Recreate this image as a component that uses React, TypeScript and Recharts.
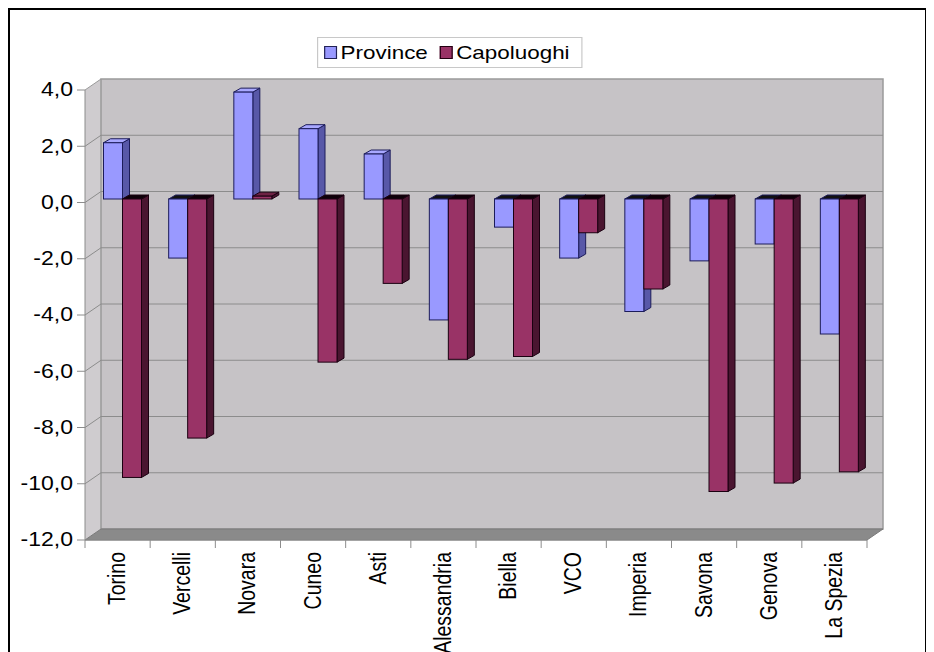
import React from 'react';
import { BarChart, Bar, XAxis, YAxis, ReferenceArea, Legend } from 'recharts';

const CATEGORIES = ['Torino', 'Vercelli', 'Novara', 'Cuneo', 'Asti', 'Alessandria', 'Biella', 'VCO', 'Imperia', 'Savona', 'Genova', 'La Spezia'];
const PROVINCE = [2.0, -2.1, 3.8, 2.5, 1.6, -4.3, -1.0, -2.1, -4.0, -2.2, -1.6, -4.8];
const CAPOLUOGHI = [-9.9, -8.5, 0.1, -5.8, -3.0, -5.7, -5.6, -1.2, -3.2, -10.4, -10.1, -9.7];
const Y_TICKS = [4, 2, 0, -2, -4, -6, -8, -10, -12];

const data = CATEGORIES.map((name, i) => ({ name, province: PROVINCE[i], capoluoghi: CAPOLUOGHI[i] }));

// fake 3d: wall depth, bar offset inside depth, bar depth
const WD = 16, WDY = -11;
const OX = 4.5, OY = -3.5, DX = 7, DY = -4;
const SX = 1.18; // the picture is a bit stretched sideways
const FONT = '"Liberation Sans", Arial, sans-serif';

const PROV = { front: '#9999ff', side: '#5858a8', top: '#a8a8ff', topNeg: '#111', stroke: '#1c1c5a' };
const CAP = { front: '#993366', side: '#4a1530', top: '#6e2244', topNeg: '#0d0008', stroke: '#1a0010' };

const fmt = (v: number) => v.toFixed(1).replace('.', ',');

const Bar3D = (props: any) => {
  const { x, y, width, height, payload, seriesKey, colors } = props;
  const v = payload[seriesKey];
  const top = Math.min(y, y + height) + OY;
  const bottom = Math.max(y, y + height) + OY;
  const left = x + OX;
  const right = left + width;
  const topFill = v >= 0 ? colors.top : colors.topNeg;
  return (
    <g>
      <polygon
        points={`${right},${top} ${right + DX},${top + DY} ${right + DX},${bottom + DY} ${right},${bottom}`}
        fill={colors.side}
        stroke={colors.stroke}
        strokeWidth={1}
      />
      <polygon
        points={`${left},${top} ${left + DX},${top + DY} ${right + DX},${top + DY} ${right},${top}`}
        fill={topFill}
        stroke={colors.stroke}
        strokeWidth={1}
      />
      <rect x={left} y={top} width={width} height={bottom - top} fill={colors.front} stroke={colors.stroke} strokeWidth={1} />
    </g>
  );
};

// back wall, side wall, floor and gridlines, drawn from the area that spans the whole y domain
const Walls = (props: any) => {
  const { x, y, width: w, height: h } = props;
  const yMax = Y_TICKS[0];
  const yMin = Y_TICKS[Y_TICKS.length - 1];
  const yOf = (t: number) => y + ((yMax - t) / (yMax - yMin)) * h;
  const n = CATEGORIES.length;
  return (
    <g>
      <polygon points={`${x},${y} ${x + WD},${y + WDY} ${x + WD},${y + h + WDY} ${x},${y + h}`} fill="#cfcccf" />
      <rect x={x + WD} y={y + WDY} width={w} height={h} fill="#c6c3c6" stroke="#9a9a9a" strokeWidth={1.5} />
      {Y_TICKS.slice(1, -1).map((t) => (
        <g key={t}>
          <line x1={x} y1={yOf(t)} x2={x + WD} y2={yOf(t) + WDY} stroke="#8c8c8c" />
          <line x1={x + WD} y1={yOf(t) + WDY} x2={x + WD + w} y2={yOf(t) + WDY} stroke="#8c8c8c" />
        </g>
      ))}
      <line x1={x} y1={y} x2={x + WD} y2={y + WDY} stroke="#9a9a9a" />
      <polygon points={`${x},${y + h} ${x + WD},${y + h + WDY} ${x + WD + w},${y + h + WDY} ${x + w},${y + h}`} fill="#8a8a8a" stroke="#7a7a7a" />
      {Array.from({ length: n + 1 }, (_, i) => (
        <line key={i} x1={x + (i * w) / n} y1={y + h} x2={x + (i * w) / n} y2={y + h + 8} stroke="#8c8c8c" />
      ))}
    </g>
  );
};

const YTick = ({ x, y, payload }: any) => (
  <text
    transform={`translate(${x},${y}) scale(${SX},1)`}
    textAnchor="end"
    dominantBaseline="central"
    fontFamily={FONT}
    fontSize={19.5}
    fill="#000"
  >
    {fmt(payload.value)}
  </text>
);

const XTick = ({ x, y, payload }: any) => (
  <text
    transform={`translate(${x},${y + 12}) scale(${SX},1) rotate(-90)`}
    textAnchor="end"
    dominantBaseline="central"
    fontFamily={FONT}
    fontSize={19.5}
    fill="#000"
  >
    {payload.value}
  </text>
);

const LegendBox = () => (
  <div
    style={{
      width: 225,
      height: 31,
      boxSizing: 'border-box',
      border: '1px solid #c8c8c8',
      background: '#fff',
      display: 'flex',
      alignItems: 'center',
      paddingLeft: 5,
      fontFamily: FONT,
      fontSize: 19,
      color: '#000',
      transform: `scaleX(${SX})`,
      transformOrigin: 'left top',
      whiteSpace: 'nowrap',
    }}
  >
    <span style={{ width: 11, height: 13, background: PROV.front, border: '1px solid #222255', marginRight: 3, boxSizing: 'border-box' }} />
    <span style={{ marginRight: 10 }}>Province</span>
    <span style={{ width: 11, height: 13, background: CAP.front, border: '1px solid #220011', marginRight: 3, boxSizing: 'border-box' }} />
    <span>Capoluoghi</span>
  </div>
);

export default function App() {
  return (
    <div style={{ position: 'relative', width: 919, height: 644 }}>
      <BarChart
        width={919}
        height={644}
        data={data}
        margin={{ top: 82, right: 60, bottom: 0, left: 7 }}
        barCategoryGap={14}
        barGap={0}
      >
        <ReferenceArea y1={-12} y2={4} ifOverflow="visible" shape={<Walls />} />
        <XAxis
          dataKey="name"
          interval={0}
          height={112}
          tickLine={false}
          tickSize={0}
          tickMargin={0}
          axisLine={{ stroke: '#8c8c8c' }}
          tick={<XTick />}
        />
        <YAxis
          width={70}
          domain={[-12, 4]}
          ticks={Y_TICKS}
          interval={0}
          tickSize={8}
          tickMargin={4}
          axisLine={{ stroke: '#8c8c8c' }}
          tickLine={{ stroke: '#8c8c8c' }}
          tick={<YTick />}
        />
        <Legend
          verticalAlign="middle"
          layout="horizontal"
          content={<LegendBox />}
          wrapperStyle={{ left: 309, top: 29, width: 266, height: 32 }}
        />
        <Bar
          dataKey="province"
          name="Province"
          isAnimationActive={false}
          shape={(p: any) => <Bar3D {...p} seriesKey="province" colors={PROV} />}
        />
        <Bar
          dataKey="capoluoghi"
          name="Capoluoghi"
          isAnimationActive={false}
          shape={(p: any) => <Bar3D {...p} seriesKey="capoluoghi" colors={CAP} />}
        />
      </BarChart>
      <div
        style={{
          position: 'absolute',
          inset: 0,
          borderTop: '2px solid #000',
          borderLeft: '2px solid #000',
          borderRight: '2px solid #000',
          pointerEvents: 'none',
        }}
      />
    </div>
  );
}
